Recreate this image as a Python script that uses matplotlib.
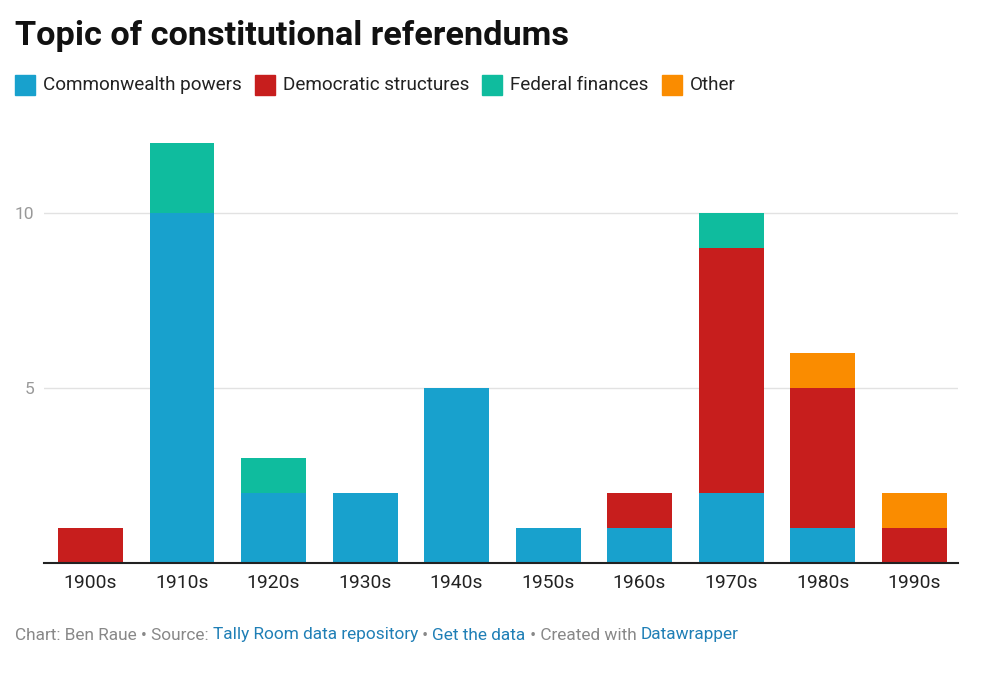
import matplotlib.pyplot as plt
import matplotlib.patches as mpatches
import numpy as np

plt.rcParams['font.family'] = ['Roboto', 'DejaVu Sans']

decades = ['1900s', '1910s', '1920s', '1930s', '1940s',
           '1950s', '1960s', '1970s', '1980s', '1990s']
commonwealth = [0, 10, 2, 2, 5, 1, 1, 2, 1, 0]
democratic = [1, 0, 0, 0, 0, 0, 1, 7, 4, 1]
federal = [0, 2, 1, 0, 0, 0, 0, 1, 0, 0]
other = [0, 0, 0, 0, 0, 0, 0, 0, 1, 1]

series = [('Commonwealth powers', commonwealth, '#18a1cd'),
          ('Democratic structures', democratic, '#c71e1d'),
          ('Federal finances', federal, '#0fbc9e'),
          ('Other', other, '#fa8c00')]

W, H = 1000, 677
fig = plt.figure(figsize=(10, 6.77), dpi=100)
ax = fig.add_axes([44 / W, 1 - 563 / H, 914 / W, 12.8 * 35 / H])

x = np.arange(len(decades))
bottom = np.zeros(len(decades))
for name, vals, col in series:
    vals = np.array(vals, dtype=float)
    ax.bar(x, vals, 0.71, bottom=bottom, color=col, zorder=2)
    bottom += vals

ax.set_xlim(-0.508, 9.48)
ax.set_ylim(0, 12.8)
ax.set_yticks([5, 10])
ax.set_yticklabels(['5', '10'])
ax.grid(axis='y', color='#e2e2e2', linewidth=1, zorder=0)
ax.tick_params(axis='y', length=0, pad=7, labelsize=12.5, labelcolor='#999999')
ax.set_xticks(x)
ax.set_xticklabels(decades)
ax.tick_params(axis='x', length=0, pad=8, labelsize=13.9, labelcolor='#222222')
for s in ['top', 'right', 'left']:
    ax.spines[s].set_visible(False)
ax.spines['bottom'].set_color('#222222')
ax.spines['bottom'].set_linewidth(1.5)
ax.spines['bottom'].set_zorder(3)

fig.text(15 / W, 1 - 36 / H, 'Topic of constitutional referendums',
         fontsize=24.7, fontweight='bold', color='#111111', va='center')

renderer = fig.canvas.get_renderer()

# legend
lx = 15
ly = 85
for name, vals, col in series:
    fig.patches.append(mpatches.Rectangle((lx / W, 1 - (ly + 10) / H), 20 / W, 20 / H,
                                          transform=fig.transFigure, color=col))
    t = fig.text((lx + 28) / W, 1 - ly / H, name, fontsize=13.6, color='#222222', va='center')
    w = t.get_window_extent(renderer).width
    lx = lx + 28 + w + 13

# footer
pieces = [('Chart: Ben Raue • Source: ', '#888888'),
          ('Tally Room data repository', '#1f7fb6'),
          (' • ', '#888888'),
          ('Get the data', '#1f7fb6'),
          (' • Created with ', '#888888'),
          ('Datawrapper', '#1f7fb6')]
fx = 15
for txt, col in pieces:
    t = fig.text(fx / W, 1 - 635 / H, txt, fontsize=12.45, color=col, va='center')
    fx += t.get_window_extent(renderer).width

fig.savefig('out.png', dpi=100)
